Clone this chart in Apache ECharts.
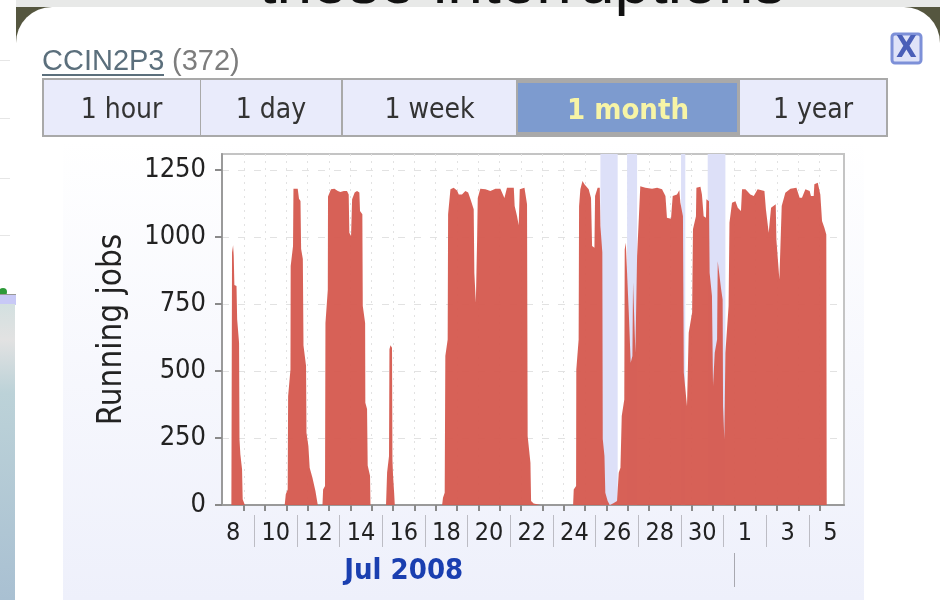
<!DOCTYPE html>
<html><head><meta charset="utf-8">
<style>html,body{margin:0;padding:0;background:#fff}#c{width:940px;height:600px}canvas{filter:blur(.6px)}</style>
<script src="https://cdn.jsdelivr.net/npm/echarts@6/dist/echarts.min.js"></script>
</head><body><div id="c"></div>
<script>
// Time is in days counted from 1 Jul 2008 (32 = 1 Aug)
const sampleDays = [8.42,8.44,8.45,8.50,8.53,8.56,8.66,8.69,8.78,8.80,8.84,8.92,8.95,9.05,
10.92,10.97,11.06,11.08,11.19,11.20,11.31,11.33,11.53,11.59,11.66,11.69,11.77,11.80,11.92,11.94,12.03,12.09,12.22,12.31,12.36,12.44,12.47,
12.69,12.72,12.81,12.83,12.94,12.95,13.09,13.25,13.41,13.53,13.69,13.84,13.92,13.95,14.03,14.08,14.20,14.31,14.42,14.45,14.56,14.58,14.69,14.70,14.78,14.81,14.92,14.94,
15.67,15.72,15.81,15.83,15.88,15.95,15.97,16.00,16.05,16.08,
18.30,18.34,18.42,18.45,18.56,18.58,18.69,18.84,19.00,19.08,19.23,19.39,19.52,19.63,19.78,19.81,19.88,19.94,19.97,20.09,20.33,20.56,20.80,21.03,21.22,21.31,21.34,21.66,21.70,21.81,21.89,21.94,22.16,22.28,22.31,22.44,22.47,22.59,22.91,
24.44,24.47,24.58,24.59,24.70,24.72,24.78,24.88,24.97,25.17,25.28,25.33,25.44,25.47,25.59,25.69,25.72,25.81,25.83,25.91,25.95,26.06,26.16,26.31,26.50,26.58,26.66,26.72,26.84,26.86,26.91,27.05,27.14,27.22,27.25,27.33,27.36,27.44,27.59,27.83,28.14,28.38,28.61,28.77,28.84,29.03,29.11,29.31,29.42,29.47,29.59,29.63,29.78,29.86,30.02,30.06,30.20,30.22,30.41,30.48,30.56,30.67,30.69,30.81,30.84,30.95,31.00,31.08,31.19,31.22,31.31,31.38,31.45,31.47,31.53,31.58,31.73,31.77,31.89,32.05,32.16,32.31,32.36,32.52,32.75,32.91,33.09,33.41,33.48,33.61,33.72,33.94,33.97,34.11,34.17,34.22,34.39,34.63,34.91,35.06,35.17,35.33,35.53,35.59,35.72,35.75,35.91,36.03,36.11,36.22,36.31,36.33];
const runningJobs = [0,618,942,969,929,821,817,693,606,245,189,133,21,0,
0,40,58,406,506,892,967,1180,1180,1143,1135,955,918,595,520,270,220,139,102,96,52,46,0,
0,58,71,679,803,1151,1178,1180,1172,1168,1172,1172,1159,1016,1004,1141,1166,1172,1166,1097,1085,743,679,382,358,147,109,0,
0,121,183,581,596,587,170,108,46,0,
0,27,46,556,618,1085,1178,1184,1174,1159,1159,1172,1166,1141,1104,867,756,992,1146,1180,1178,1172,1180,1180,1146,1146,1184,1184,1116,1079,1044,1178,1184,1122,257,158,15,6,0,
0,58,71,506,618,1115,1178,1209,1197,1178,1146,967,960,1153,1184,1184,1041,942,246,183,46,15,0,6,15,120,139,332,394,954,979,718,531,556,830,830,568,929,1190,1184,1180,1184,1178,1153,1072,1068,1153,1159,1175,1128,1078,494,369,643,718,1029,1078,1184,1188,1159,1078,1072,1141,1134,867,780,444,568,618,910,910,805,767,369,245,568,743,1053,1128,1134,1109,1097,1178,1178,1159,1153,1178,1172,1103,1016,1109,1122,991,842,842,1116,1165,1180,1184,1147,1147,1178,1172,1153,1153,1197,1203,1159,1060,1035,1010,0];
const maintenanceBands = [[25.72,26.53],[26.97,27.44],[29.5,29.7],[30.75,31.58]];
const yTicks = [0,250,500,750,1000,1250];
const dayTicks = [9,10,11,12,13,14,15,16,17,18,19,20,21,22,23,24,25,26,27,28,29,30,31,32,33,34,35,36];
const labelDays = [8.5,10.5,12.5,14.5,16.5,18.5,20.5,22.5,24.5,26.5,28.5,30.5,32.5,34.5,36.5];
const dayLabels = ['8','10','12','14','16','18','20','22','24','26','28','30','1','3','5'];
const separatorDays = [9.5,11.5,13.5,15.5,17.5,19.5,21.5,23.5,25.5,27.5,29.5,31.5,33.5,35.5];
const monthStart = [32];
const monthLabelDay = [16.5];
const monthLabel = 'Jul 2008';
const tabLabels = ['1 hour','1 day','1 week','1 month','1 year'];
const siteName = 'CCIN2P3', siteCount = '(372)';
const yAxisTitle = 'Running jobs';
const headline = 'these interruptions';

const FONT = '"DejaVu Sans Condensed","DejaVu Sans"';
const tabEdges = [43,200,342,517,739,887];
const Z = -5;
function rect(x,y,w,h,fill,extra){return Object.assign({type:'rect',z:Z,silent:true,shape:{x,y,width:w,height:h},style:{fill}},extra||{});}
function txt(x,y,t,font,fill,align,extra){return Object.assign({type:'text',z:Z+3,silent:true,x,y,style:{text:t,font,fill,align:align||'center',verticalAlign:'middle'}},extra||{});}

const elements = [
  // headline strip behind the card
  rect(16,0,924,7,'#e8e9e8'),
  rect(16,7,924,40,'#55563f',{z:Z}),
  {type:'rect',z:Z+1,silent:true,shape:{x:16,y:7,width:924,height:640,r:36},style:{fill:'#fff'}},
  txt(522,-15,headline,'64px "Liberation Sans"','#111','center',{z:Z+2}),
  // page fragment to the left
  {type:'circle',z:Z+1,silent:true,shape:{cx:3,cy:292,r:4},style:{fill:'#2e9a3a'}},
  rect(0,60,10,1,'#e6e6e6',{z:Z+1}),
  rect(0,118,10,1,'#e6e6e6',{z:Z+1}),
  rect(0,178,10,1,'#e6e6e6',{z:Z+1}),
  rect(0,235,10,1,'#e6e6e6',{z:Z+1}),
  rect(0,294,16,2,'#999',{z:Z+2}),
  rect(0,295,16,10,'#c8c9f6',{z:Z+2}),
  rect(0,304,15,296,{type:'linear',x:0,y:0,x2:0,y2:1,colorStops:[{offset:0,color:'#d3e0e0'},{offset:.12,color:'#e2e2e2'},{offset:.3,color:'#bcd2d8'},{offset:1,color:'#a9c0d2'}]},{z:Z+2}),
  // gradient panel
  rect(63,140,801,460,{type:'linear',x:0,y:0,x2:0,y2:1,colorStops:[{offset:0,color:'#ffffff'},{offset:1,color:'#eef0fb'}]},{z:Z+1}),
  // title
  txt(42,62,siteName,'29px "Liberation Sans"','#5b6f7c','left'),
  rect(42,74,122,2,'#5b6f7c',{z:Z+3}),
  txt(172,62,siteCount,'29px "Liberation Sans"','#7d7d7d','left'),
  // close button
  {type:'rect',z:Z+2,silent:true,shape:{x:892,y:34,width:29,height:29,r:3},style:{fill:'#dfe3f8',stroke:'#7d90d8',lineWidth:3}},
  txt(906.5,49,'X','bold 30px '+FONT,'#4a5fb8'),
  // tabs
  rect(42,78,846,59,'#a9a9a9',{z:Z+2}),
];
tabLabels.forEach((t,i)=>{
  const a = tabEdges[i], b = tabEdges[i+1], on = i===3;
  elements.push(rect(a+1,on?83:80,b-a-(i?2:1)+(on?-1:0),on?49:55,on?'#7d9bcf':'#e9ebfb',{z:Z+3}));
  elements.push(txt((a+b)/2,111,t,(on?'bold 29px ':'28px ')+FONT,on?'#f7f4a6':'#333','center',{z:Z+4}));
});
elements.push(rect(222,154,622,351,'#fff',{z:Z+2}));

const option = {
  animation:false,
  backgroundColor:'#fff',
  graphic:{elements},
  grid:{left:222,right:96,top:154,bottom:95,show:true,borderColor:'#c4c4c4',borderWidth:2,backgroundColor:'transparent'},
  xAxis:[
   {type:'value',min:7.98,max:37.14,position:'bottom',splitLine:{show:true,lineStyle:{color:'#e2e2e2',type:[2,5]}},
    axisLine:{lineStyle:{color:'#9a9a9a',width:2}},
    axisTick:{customValues:dayTicks,length:6,lineStyle:{color:'#8a8a8a',width:2}},
    axisLabel:{customValues:labelDays,hideOverlap:false,margin:16,color:'#222',fontFamily:FONT,fontSize:25,
      formatter:v=>dayLabels[labelDays.indexOf(v)]}},
   {type:'value',min:7.98,max:37.14,position:'bottom',offset:10,splitLine:{show:false},axisLine:{show:false},
    axisTick:{customValues:separatorDays,length:32,lineStyle:{color:'#bcbcc4',width:1}},axisLabel:{show:false}},
   {type:'value',min:7.98,max:37.14,position:'bottom',offset:48,splitLine:{show:false},axisLine:{show:false},
    axisTick:{customValues:monthStart,length:34,lineStyle:{color:'#a8a8b0',width:1}},
    axisLabel:{customValues:monthLabelDay,hideOverlap:false,margin:4,color:'#1a3fb0',fontFamily:FONT,fontWeight:'bold',fontSize:29,formatter:()=>monthLabel}}
  ],
  yAxis:{type:'value',min:0,max:1310,name:yAxisTitle,nameLocation:'middle',nameGap:93,
    nameTextStyle:{fontFamily:FONT,fontSize:33,color:'#222'},
    splitLine:{show:true,lineStyle:{color:'#e2e2e2',type:[7,9]}},
    axisLine:{show:true,lineStyle:{color:'#9a9a9a',width:2}},
    axisTick:{show:true,customValues:yTicks,length:7,lineStyle:{color:'#8a8a8a',width:2}},
    axisLabel:{customValues:yTicks,margin:16,color:'#222',fontFamily:FONT,fontSize:27,padding:[4,0,0,0],formatter:v=>String(v)}},
  series:[
   {type:'line',z:1,data:[],markArea:{silent:true,itemStyle:{color:'#dde0f8',opacity:1},data:maintenanceBands.map(b=>[{xAxis:b[0]},{xAxis:b[1]}])}},
   {type:'line',z:3,showSymbol:false,silent:true,lineStyle:{width:0},areaStyle:{color:'#d55b50',opacity:.96},
    data:sampleDays.map((d,i)=>[d,runningJobs[i]])}
  ]
};
echarts.init(document.getElementById('c'),null,{renderer:'canvas'}).setOption(option);
</script></body></html>
